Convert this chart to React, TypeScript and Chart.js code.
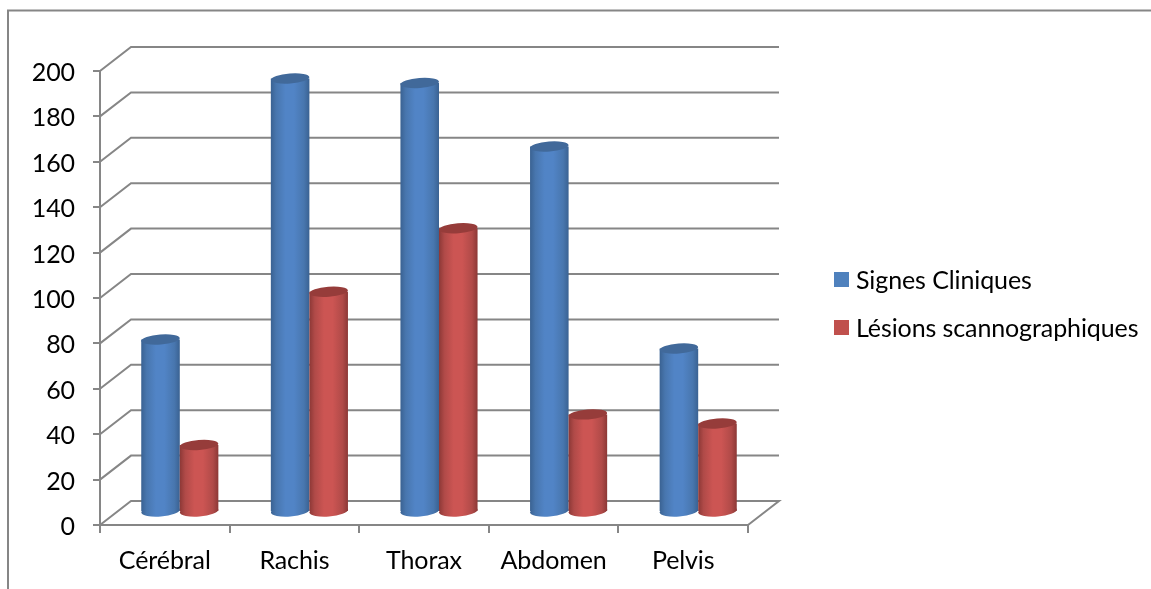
import React, { useEffect, useRef } from "react";
import { Chart, registerables } from "chart.js";

Chart.register(...registerables);

const categories = ["Cérébral", "Rachis", "Thorax", "Abdomen", "Pelvis"];
const signesCliniques = [76, 191, 189, 161, 72];
const lesionsScanno = [29.5, 97, 125, 43, 39];
const seriesNames = ["Signes Cliniques", "Lésions scannographiques"];
const seriesFill = ["#4F81BD", "#C0504D"];
const seriesShades = [
  { edge: "#3A6292", mid: "#4876AE", light: "#5184C6", cap: "#41699A" },
  { edge: "#8C3836", mid: "#B04A48", light: "#CC5553", cap: "#963C3A" },
];

const FONT = "Lato, Carlito, sans-serif";
const GRID = "#868686";
const DEPTH_X = 31;
const DEPTH_Y = 24;
const BAR_DX = 15;
const BAR_DY = -13;

const cylinderPlugin = {
  id: "cylinder3d",
  beforeDraw(chart: any) {
    const { ctx, chartArea: a, scales } = chart;
    (ctx as any).letterSpacing = "-0.1px";
    ctx.save();
    ctx.strokeStyle = GRID;
    ctx.lineWidth = 2;
    // outer frame
    ctx.beginPath();
    ctx.moveTo(8, 589);
    ctx.lineTo(8, 10.5);
    ctx.lineTo(1151, 10.5);
    ctx.stroke();
    // walls: each value tick goes back in depth, then along the back wall
    scales.y.ticks.forEach((t: any) => {
      const y = scales.y.getPixelForValue(t.value);
      ctx.beginPath();
      ctx.moveTo(a.left, y);
      ctx.lineTo(a.left + DEPTH_X, y - DEPTH_Y);
      ctx.lineTo(a.right + DEPTH_X, y - DEPTH_Y);
      if (t.value === 0) ctx.lineTo(a.right, y);
      ctx.stroke();
    });
    ctx.restore();
  },
  beforeDatasetDraw() {
    return false;
  },
  afterDatasetsDraw(chart: any) {
    const { ctx } = chart;
    chart.data.datasets.forEach((_: any, index: number) => {
      const meta = chart.getDatasetMeta(index);
      const shade = seriesShades[index];
      ctx.save();
      ctx.translate(BAR_DX, BAR_DY);
      const tilt = -0.075;
      meta.data.forEach((el: any) => {
        const half = el.width / 2;
        const g = ctx.createLinearGradient(el.x - half, 0, el.x + half, 0);
        g.addColorStop(0, shade.edge);
        g.addColorStop(0.14, shade.mid);
        g.addColorStop(0.38, shade.light);
        g.addColorStop(0.6, shade.light);
        g.addColorStop(0.86, shade.mid);
        g.addColorStop(1, shade.edge);
        el.options = Object.assign({}, el.options, { backgroundColor: g });
        ctx.fillStyle = g;
        ctx.beginPath();
        ctx.ellipse(el.x, el.base, half, 5.5, tilt, 0, Math.PI * 2);
        ctx.fill();
      });
      meta.controller.draw();
      meta.data.forEach((el: any) => {
        ctx.fillStyle = shade.cap;
        ctx.beginPath();
        ctx.ellipse(el.x, el.y, el.width / 2, 5, tilt, 0, Math.PI * 2);
        ctx.fill();
      });
      ctx.restore();
    });
  },
  afterDraw(chart: any) {
    const { ctx } = chart;
    ctx.save();
    ctx.font = `25px ${FONT}`;
    ctx.textAlign = "left";
    ctx.textBaseline = "middle";
    chart.data.datasets.forEach((ds: any, i: number) => {
      const top = 272 + i * 48;
      ctx.fillStyle = ds.backgroundColor;
      ctx.fillRect(834, top, 15, 15);
      ctx.fillStyle = "#000000";
      ctx.fillText(ds.label, 856, top + 8.5);
    });
    ctx.restore();
  },
};

export default function App() {
  const ref = useRef<HTMLCanvasElement | null>(null);
  useEffect(() => {
    if (!ref.current) return;
    const chart = new Chart(ref.current, {
      type: "bar",
      data: {
        labels: categories,
        datasets: [
          { label: seriesNames[0], data: signesCliniques, backgroundColor: seriesFill[0] },
          { label: seriesNames[1], data: lesionsScanno, backgroundColor: seriesFill[1] },
        ],
      },
      options: {
        animation: false,
        responsive: false,
        devicePixelRatio: 1,
        layout: { padding: { left: 0, right: 403, top: 71, bottom: 0 } },
        datasets: { bar: { categoryPercentage: 0.595, barPercentage: 1, borderWidth: 0 } },
        plugins: { legend: { display: false }, title: { display: false }, tooltip: { enabled: false } },
        scales: {
          x: {
            afterFit: (s: any) => { s.height = 64; },
            grid: { drawOnChartArea: false, drawTicks: true, tickLength: 8, color: GRID, lineWidth: 2 },
            border: { color: GRID, width: 2 },
            ticks: { color: "#000", font: { family: FONT, size: 25 }, padding: 13, autoSkip: false, maxRotation: 0 },
          },
          y: {
            min: 0,
            max: 200,
            afterFit: (s: any) => { s.width = 100; },
            grid: { drawOnChartArea: false, drawTicks: true, tickLength: 7, color: GRID, lineWidth: 2 },
            border: { color: GRID, width: 2 },
            ticks: { stepSize: 20, color: "#000", font: { family: FONT, size: 25 }, padding: 18, labelOffset: 2 },
          },
        },
      },
      plugins: [cylinderPlugin],
    } as any);
    return () => chart.destroy();
  }, []);
  return (
    <div style={{ position: "fixed", left: 0, top: 0, width: 1151, height: 589, background: "#fff" }}>
      <canvas ref={ref} width={1151} height={589} style={{ display: "block" }} />
    </div>
  );
}
